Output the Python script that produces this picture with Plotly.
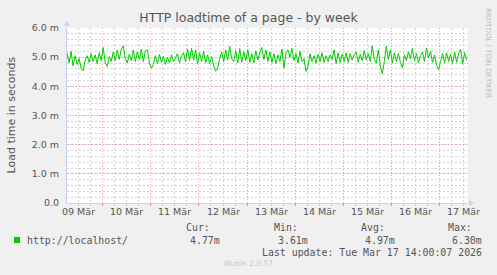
import pandas as pd
import plotly.graph_objects as go

# ---------------- data ----------------
start_time = "2026-03-09 06:18"
end_time = "2026-03-17 14:00"
times = pd.date_range("2026-03-09 06:20", periods=200, freq="h")
loadtime_ms = [
    5.15, 4.80, 5.20, 4.70, 5.05, 4.75, 4.95, 4.62, 4.53, 4.90,
    5.05, 4.82, 5.12, 4.85, 5.08, 4.78, 5.15, 4.88, 5.33, 4.80,
    4.68, 5.02, 4.85, 5.18, 4.88, 5.25, 4.92, 5.28, 5.39, 4.95,
    4.80, 5.10, 4.88, 5.25, 4.85, 5.18, 4.92, 5.28, 4.85, 5.22,
    5.25, 4.80, 4.62, 4.75, 5.05, 4.78, 5.10, 4.82, 5.02, 4.75,
    5.00, 4.80, 5.08, 4.85, 4.98, 5.12, 4.80, 5.05, 5.15, 4.85,
    5.28, 4.88, 5.30, 4.90, 5.25, 4.78, 5.15, 4.85, 5.20, 4.80,
    5.08, 4.78, 5.02, 4.70, 4.52, 4.62, 4.95, 5.18, 4.85, 5.25,
    4.90, 5.37, 4.95, 4.85, 5.22, 4.80, 5.30, 4.82, 5.18, 4.88,
    5.25, 4.82, 5.12, 4.80, 5.22, 4.90, 5.18, 5.33, 4.92, 5.25,
    4.85, 5.18, 4.82, 5.12, 4.78, 5.08, 4.85, 5.28, 4.63, 5.15,
    5.25, 5.00, 5.30, 4.88, 5.12, 4.80, 5.20, 4.85, 4.95, 4.51,
    4.68, 5.12, 4.85, 5.05, 4.80, 5.10, 4.85, 5.15, 4.82, 5.05,
    4.85, 5.08, 4.92, 5.25, 4.78, 5.15, 4.82, 5.10, 4.85, 5.15,
    4.82, 5.12, 4.90, 5.08, 5.18, 4.82, 5.10, 4.88, 5.22, 4.90,
    5.12, 4.85, 5.39, 4.92, 4.80, 5.25, 4.70, 4.43, 4.85, 5.38,
    4.92, 5.25, 4.80, 5.15, 4.85, 5.12, 4.82, 4.63, 5.08, 4.88,
    5.18, 4.95, 5.30, 4.88, 5.12, 4.80, 5.05, 5.18, 4.85, 5.32,
    4.98, 5.20, 4.82, 5.08, 4.72, 4.57, 4.85, 5.12, 4.80, 5.15,
    4.85, 5.10, 4.78, 5.18, 4.82, 5.12, 5.28, 4.78, 5.15, 4.90,
]
day_dates = ["2026-03-09", "2026-03-10", "2026-03-11", "2026-03-12", "2026-03-13",
             "2026-03-14", "2026-03-15", "2026-03-16", "2026-03-17"]
day_labels = ["09 Mär", "10 Mär", "11 Mär", "12 Mär", "13 Mär",
              "14 Mär", "15 Mär", "16 Mär", "17 Mär"]
y_tickvals = [0, 1, 2, 3, 4, 5, 6]
y_ticktext = ["0.0", "1.0 m", "2.0 m", "3.0 m", "4.0 m", "5.0 m", "6.0 m"]
series_name = "http://localhost/"
stat_names = ["Cur:", "Min:", "Avg:", "Max:"]
stat_values = ["4.77m", "3.61m", "4.97m", "6.30m"]
last_update = "Last update: Tue Mar 17 14:00:07 2026"

# ---------------- layout helpers ----------------
W, H = 497, 275
L, R, T, B = 67, 29, 28, 72
PW, PH = W - L - R, H - T - B

def px(x):
    return (x - L) / PW

def py(y):
    return (H - B - y) / PH

GREEN = "#00CC00"
TXT = "#555555"
AXIS = "#C8CEF5"
MAJOR = "rgba(240,110,110,0.65)"
MINOR = "#D2D2D2"
sans = "DejaVu Sans"
mono = "DejaVu Sans Mono"

fig = go.Figure()
fig.add_trace(go.Scatter(x=times, y=loadtime_ms, mode="lines",
                         line=dict(color=GREEN, width=1), hoverinfo="skip",
                         showlegend=False))

fig.update_layout(
    width=W, height=H,
    margin=dict(l=L, r=R, t=T, b=B, pad=0),
    paper_bgcolor="#F0F0F0", plot_bgcolor="#FFFFFF",
    title=dict(text="HTTP loadtime of a page - by week", x=0.5, xref="container",
               xanchor="center", y=1 - 18 / H, yref="container", yanchor="middle",
               font=dict(family=sans, size=12.5, color=TXT)),
    showlegend=False,
    xaxis=dict(type="date", range=[start_time, end_time],
               tick0="2026-03-10", dtick=86400000,
               showticklabels=False, showgrid=True,
               gridcolor=MAJOR, griddash="1px,2px", gridwidth=1,
               ticks="outside", ticklen=2, tickcolor="#F08080",
               minor=dict(dtick=6 * 3600000, showgrid=True, gridcolor=MINOR,
                          griddash="2px,2px", ticks="outside", ticklen=2,
                          tickcolor="#CCCCCC"),
               showline=True, linecolor=AXIS, linewidth=1, zeroline=False,
               fixedrange=True),
    yaxis=dict(range=[0, 6], tickvals=y_tickvals, ticktext=y_ticktext,
               tickfont=dict(family=sans, size=9.5, color=TXT),
               showgrid=True, gridcolor=MAJOR, griddash="1px,2px",
               gridwidth=1, ticks="", ticklabelstandoff=5,
               minor=dict(dtick=0.2, showgrid=True, gridcolor=MINOR,
                          griddash="2px,2px"),
               showline=True, linecolor=AXIS, linewidth=1, zeroline=False,
               fixedrange=True),
)

ann = []
# x-axis day labels at noon
for d, lab in zip(day_dates, day_labels):
    noon = pd.Timestamp(d) + pd.Timedelta(hours=12)
    ann.append(dict(x=noon, xref="x", y=py(211), yref="paper", text=lab,
                    showarrow=False, xanchor="center", yanchor="middle",
                    font=dict(family=sans, size=9.5, color=TXT)))
# y-axis title
ann.append(dict(x=px(11), y=py(115.5), xref="paper", yref="paper",
                text="Load time in seconds", textangle=-90, showarrow=False,
                xanchor="center", yanchor="middle",
                font=dict(family=sans, size=11, color=TXT)))
# right side watermark
ann.append(dict(x=px(488), y=py(53), xref="paper", yref="paper",
                text="RRDTOOL / TOBI OETIKER", textangle=90, showarrow=False,
                xanchor="center", yanchor="middle",
                font=dict(family=sans, size=7, color="#BBBBBB")))
# legend
ann.append(dict(x=px(26), y=py(240), xref="paper", yref="paper",
                text=series_name, showarrow=False, xanchor="left",
                yanchor="middle", font=dict(family=mono, size=9.9, color=TXT)))
head_left = [185, 273, 360, 447]
val_right = [221, 309, 396, 483]
for nm, v, hx, vx in zip(stat_names, stat_values, head_left, val_right):
    ann.append(dict(x=px(hx), y=py(227), xref="paper", yref="paper", text=nm,
                    showarrow=False, xanchor="left", yanchor="middle",
                    font=dict(family=mono, size=9.9, color=TXT)))
    ann.append(dict(x=px(vx), y=py(240), xref="paper", yref="paper", text=v,
                    showarrow=False, xanchor="right", yanchor="middle",
                    font=dict(family=mono, size=9.9, color=TXT)))
ann.append(dict(x=px(483), y=py(252), xref="paper", yref="paper", text=last_update,
                showarrow=False, xanchor="right", yanchor="middle",
                font=dict(family=mono, size=9.9, color=TXT)))
ann.append(dict(x=px(248), y=py(263), xref="paper", yref="paper", text="Munin 2.0.57",
                showarrow=False, xanchor="center", yanchor="middle",
                font=dict(family=sans, size=7.5, color="#C8C8C8")))
for a in ann:
    a["borderpad"] = 0
fig.update_layout(annotations=ann)

# legend swatch and axis arrows
shapes = [
    dict(type="rect", xref="paper", yref="paper", x0=px(14), x1=px(20),
         y0=py(243), y1=py(237), fillcolor=GREEN, line=dict(width=0)),
    dict(type="path", xref="paper", yref="paper",
         path=f"M {px(64)} {py(26)} L {px(70)} {py(26)} L {px(67)} {py(21)} Z",
         fillcolor=AXIS, line=dict(width=0)),
    dict(type="path", xref="paper", yref="paper",
         path=f"M {px(469)} {py(200)} L {px(469)} {py(206)} L {px(474)} {py(203)} Z",
         fillcolor=AXIS, line=dict(width=0)),
]
fig.update_layout(shapes=shapes)

fig.write_html("out.html")
